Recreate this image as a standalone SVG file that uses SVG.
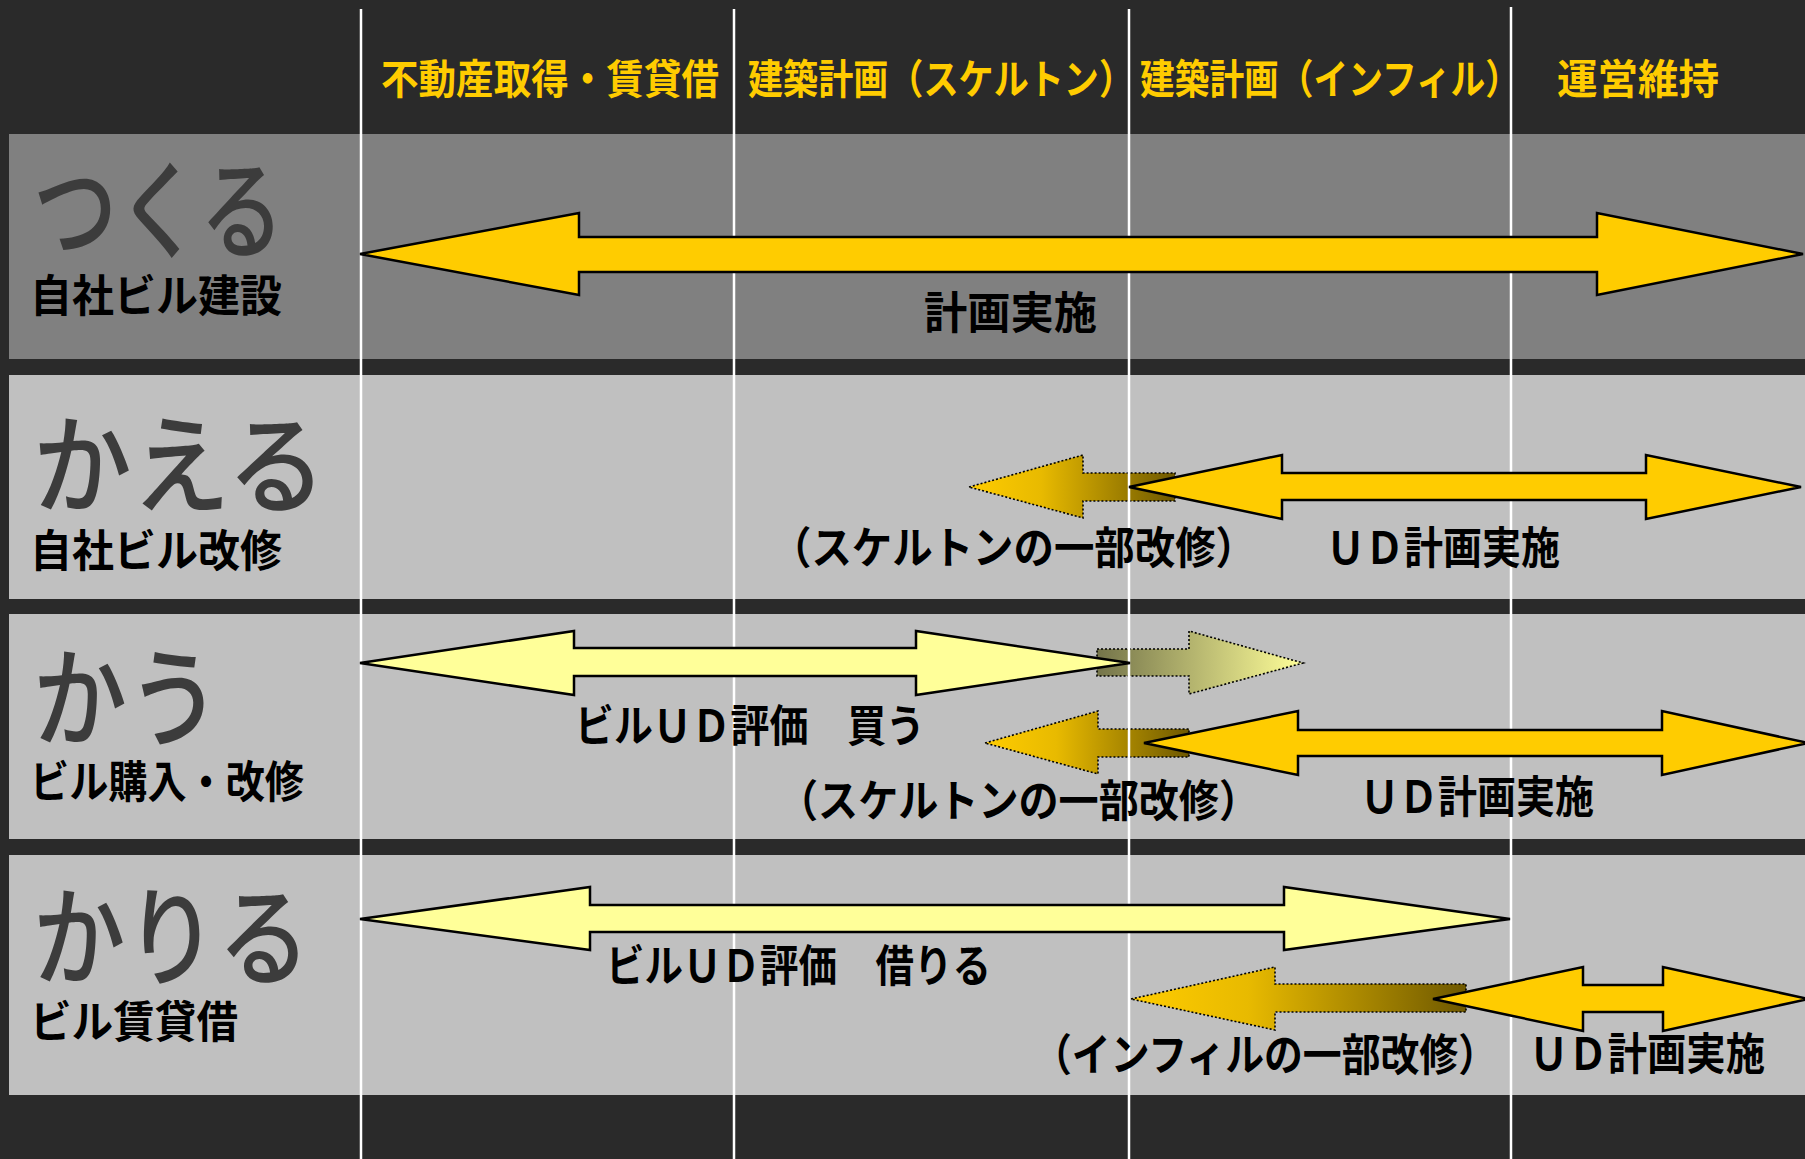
<svg xmlns="http://www.w3.org/2000/svg" width="1805" height="1159" viewBox="0 0 1805 1159">
<style>
.hdr{font-family:"Noto Sans CJK JP","Noto Sans",sans-serif;font-weight:700;font-size:41px;fill:#FFCC00}
.big{font-family:"Noto Sans CJK JP","Noto Sans",sans-serif;font-weight:500;font-size:108px;fill:#3c3c3c}
.sub{font-family:"Noto Sans CJK JP","Noto Sans",sans-serif;font-weight:700;font-size:44px;fill:#000}
.lbl{font-family:"Noto Sans CJK JP","Noto Sans",sans-serif;font-weight:700;font-size:44px;fill:#000}
.band1{fill:#808080}
.band{fill:#c0c0c0}
.vl{stroke:#ffffff;stroke-width:2.5}
.solid{fill:#FFCC00;stroke:#000;stroke-width:2.5;stroke-linejoin:miter}
.light{fill:#FFFF99;stroke:#000;stroke-width:2.5;stroke-linejoin:miter}
.grad{stroke:#000;stroke-width:1.6;stroke-dasharray:2 2}
</style>
<defs>
<linearGradient id="gOrL" x1="0" y1="0" x2="1" y2="0">
<stop offset="0" stop-color="#FFCC00"/>
<stop offset="0.35" stop-color="#E8BA00"/>
<stop offset="1" stop-color="#6E5800"/>
</linearGradient>
<linearGradient id="gYeR" x1="0" y1="0" x2="1" y2="0">
<stop offset="0" stop-color="#74744A"/>
<stop offset="1" stop-color="#FFFF99"/>
</linearGradient>
</defs>
<rect x="0" y="0" width="1805" height="1159" fill="#2a2a2a"/>
<g id="bands">
<rect class="band1" x="9" y="134" width="1796" height="225"/>
<rect class="band" x="9" y="375" width="1796" height="224"/>
<rect class="band" x="9" y="614" width="1796" height="225"/>
<rect class="band" x="9" y="855" width="1796" height="240"/>
</g>
<g id="headers">
<text class="hdr" x="381" y="94" textLength="338" lengthAdjust="spacingAndGlyphs">不動産取得・賃貸借</text>
<text class="hdr" x="748" y="94" textLength="386" lengthAdjust="spacingAndGlyphs">建築計画（スケルトン）</text>
<text class="hdr" x="1140" y="94" textLength="380" lengthAdjust="spacingAndGlyphs">建築計画（インフィル）</text>
<text class="hdr" x="1557" y="94" textLength="162" lengthAdjust="spacingAndGlyphs">運営維持</text>
</g>
<g id="row-tsukuru">
<text class="big" x="33" y="250" textLength="251" lengthAdjust="spacingAndGlyphs">つくる</text>
<text class="sub" x="30" y="312" textLength="252" lengthAdjust="spacingAndGlyphs">自社ビル建設</text>
</g>
<g id="row-kaeru">
<text class="big" x="33" y="505" textLength="293" lengthAdjust="spacingAndGlyphs">かえる</text>
<text class="sub" x="30" y="567" textLength="252" lengthAdjust="spacingAndGlyphs">自社ビル改修</text>
</g>
<g id="row-kau">
<text class="big" x="33" y="738" textLength="188" lengthAdjust="spacingAndGlyphs">かう</text>
<text class="sub" x="30" y="798" textLength="274" lengthAdjust="spacingAndGlyphs">ビル購入・改修</text>
</g>
<g id="row-kariru">
<text class="big" x="33" y="977" textLength="277" lengthAdjust="spacingAndGlyphs">かりる</text>
<text class="sub" x="30" y="1038" textLength="208" lengthAdjust="spacingAndGlyphs">ビル賃貸借</text>
</g>
<g id="gradient-arrows">
<polygon class="grad" fill="url(#gOrL)" points="969,487 1083,455 1083,473 1175,473 1175,501 1083,501 1083,518"/>
<polygon class="grad" fill="url(#gYeR)" points="1097,649 1189,649 1189,631 1303,663 1189,694 1189,676 1097,676"/>
<polygon class="grad" fill="url(#gOrL)" points="985,743 1098,711 1098,729 1189,729 1189,757 1098,757 1098,774"/>
<polygon class="grad" fill="url(#gOrL)" points="1131,999 1275,967 1275,984 1466,984 1466,1012 1275,1012 1275,1030"/>
</g>
<g id="lines">
<line class="vl" x1="361" y1="9" x2="361" y2="1159"/>
<line class="vl" x1="734" y1="9" x2="734" y2="1159"/>
<line class="vl" x1="1129" y1="9" x2="1129" y2="1159"/>
<line class="vl" x1="1511" y1="7" x2="1511" y2="1159"/>
</g>
<g id="connectors">
<polygon class="solid" points="360,254 579,213 579,237 1597,237 1597,213 1803,254 1597,295 1597,272 579,272 579,295"/>
<polygon class="solid" points="1129,487 1282,455 1282,473 1646,473 1646,455 1801,487 1646,519 1646,500 1282,500 1282,519"/>
<polygon class="light" points="360,663 574,631 574,648 916,648 916,631 1130,663 916,695 916,676 574,676 574,695"/>
<polygon class="solid" points="1144,743 1298,711 1298,730 1662,730 1662,711 1808,743 1662,775 1662,756 1298,756 1298,775"/>
<polygon class="light" points="360,919 590,887 590,905 1284,905 1284,887 1510,919 1284,950 1284,932 590,932 590,950"/>
<polygon class="solid" points="1433,999 1583,967 1583,985 1663,985 1663,967 1808,999 1663,1031 1663,1012 1583,1012 1583,1031"/>
</g>
<g id="labels">
<text class="lbl" x="924" y="329" textLength="173" lengthAdjust="spacingAndGlyphs">計画実施</text>
<text class="lbl" x="771" y="564" textLength="485" lengthAdjust="spacingAndGlyphs">（スケルトンの一部改修）</text>
<text class="lbl" x="1326" y="564" textLength="234" lengthAdjust="spacingAndGlyphs">ＵＤ計画実施</text>
<text class="lbl" x="575" y="742" textLength="350" lengthAdjust="spacingAndGlyphs">ビルＵＤ評価　買う</text>
<text class="lbl" x="778" y="817" textLength="481" lengthAdjust="spacingAndGlyphs">（スケルトンの一部改修）</text>
<text class="lbl" x="1360" y="813" textLength="234" lengthAdjust="spacingAndGlyphs">ＵＤ計画実施</text>
<text class="lbl" x="606" y="982" textLength="385" lengthAdjust="spacingAndGlyphs">ビルＵＤ評価　借りる</text>
<text class="lbl" x="1033" y="1071" textLength="464" lengthAdjust="spacingAndGlyphs">（インフィルの一部改修）</text>
<text class="lbl" x="1529" y="1070" textLength="236" lengthAdjust="spacingAndGlyphs">ＵＤ計画実施</text>
</g>
</svg>
